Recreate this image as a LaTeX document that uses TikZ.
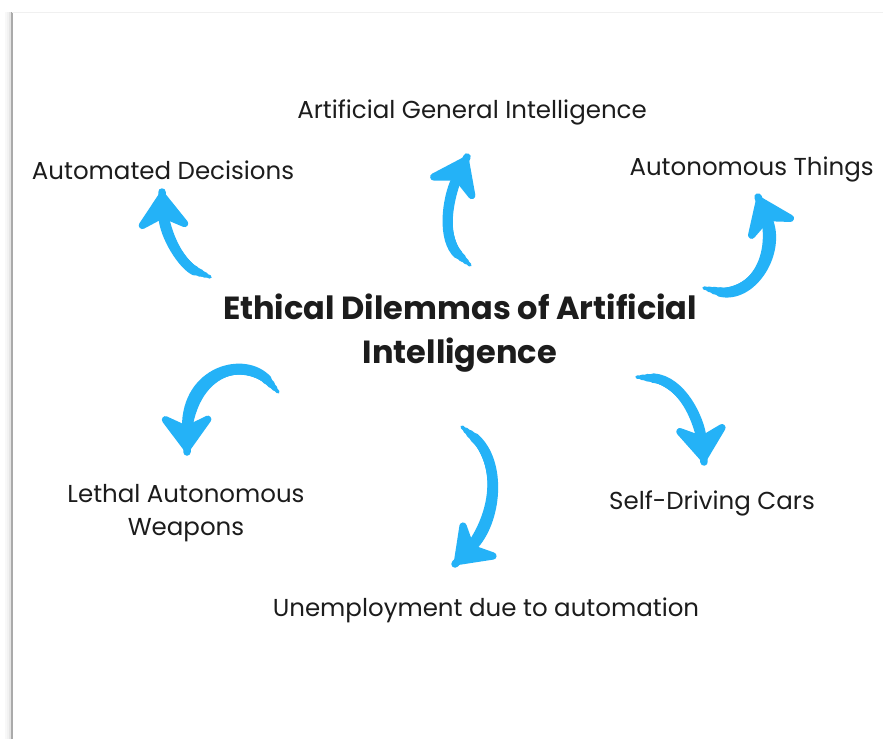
\documentclass[tikz,border=0pt]{standalone}
\usepackage{fontspec}
\setmainfont{Poppins}
\usepackage{tikz}
\usetikzlibrary{arrows.meta,positioning}
\usepackage{xcolor}
\definecolor{myblue}{RGB}{36,178,247}
\definecolor{mytext}{RGB}{28,28,28}
\definecolor{myedge}{RGB}{170,170,170}

% brush-like arrow: thin at the tail, thick near the head
\newcommand{\bentarrow}[4]{%
  \foreach \w/\s in {3.5/0,5.5/5,7.5/10}
    \draw[curvearrow, line width=\w pt, arrows=-, shorten <=\s pt] (#1) .. controls #2 and #3 .. (#4);
  \draw[curvearrow, shorten <=16pt] (#1) .. controls #2 and #3 .. (#4);}

\begin{document}
\begin{tikzpicture}[x=1pt,y=1pt,
    topic/.style={text=mytext, font=\fontsize{24.5}{33}\selectfont, align=center},
    title/.style={text=mytext, font=\fontsize{32}{44}\selectfont\bfseries, align=center},
    curvearrow/.style={myblue, line width=9.5pt, line cap=round,
      -{Stealth[length=44pt,width=64pt,inset=15pt,round]}}]
  \useasboundingbox (0,0) rectangle (883,-739);

  % card with soft shadow on the left
  \foreach \d/\o in {6/0.08,8/0.15,10/0.3}
    \draw[myedge, line width=2pt, opacity=\o] (\d,-739) -- (\d,-12);
  \fill[white] (12,-12) rectangle (883,-739);
  \draw[myedge, line width=1.6pt] (12,-739) -- (12,-12);
  \draw[gray!12, line width=1pt] (12,-12) -- (883,-12);

  % centre
  \node[title] (ethics) at (460,-333) {Ethical Dilemmas of Artificial\\Intelligence};

  % topics
  \node[topic] (agi) at (472,-112) {Artificial General Intelligence};
  \node[topic] (decide) at (163,-170) {Automated Decisions};
  \node[topic, anchor=west] (things) at (626,-169) {Autonomous Things};
  \node[topic] (weapons) at (186,-513) {Lethal Autonomous\\Weapons};
  \node[topic] (cars) at (712,-503) {Self-Driving Cars};
  \node[topic] (jobs) at (486,-610) {Unemployment due to automation};

  % arrow ends
  \coordinate (decide-tail) at (210,-277);
  \coordinate (decide-tip) at (162,-192);
  \coordinate (agi-tail) at (470,-265);
  \coordinate (agi-tip) at (467,-157);
  \coordinate (things-tail) at (704,-288);
  \coordinate (things-tip) at (758,-197);
  \coordinate (weapons-tail) at (278,-392);
  \coordinate (weapons-tip) at (187,-452);
  \coordinate (jobs-tail) at (462,-427);
  \coordinate (jobs-tip) at (455,-564);
  \coordinate (cars-tail) at (637,-377);
  \coordinate (cars-tip) at (704,-462);

  % curved arrows
  \bentarrow{decide-tail}{(183,-266)}{(164,-236)}{decide-tip}
  \bentarrow{agi-tail}{(442,-240)}{(446,-200)}{agi-tip}
  \bentarrow{things-tail}{(752,-300)}{(782,-252)}{things-tip}
  \bentarrow{weapons-tail}{(245,-355)}{(186,-370)}{weapons-tip}
  \bentarrow{jobs-tail}{(503,-462)}{(497,-522)}{jobs-tip}
  \bentarrow{cars-tail}{(682,-380)}{(700,-420)}{cars-tip}
\end{tikzpicture}
\end{document}
